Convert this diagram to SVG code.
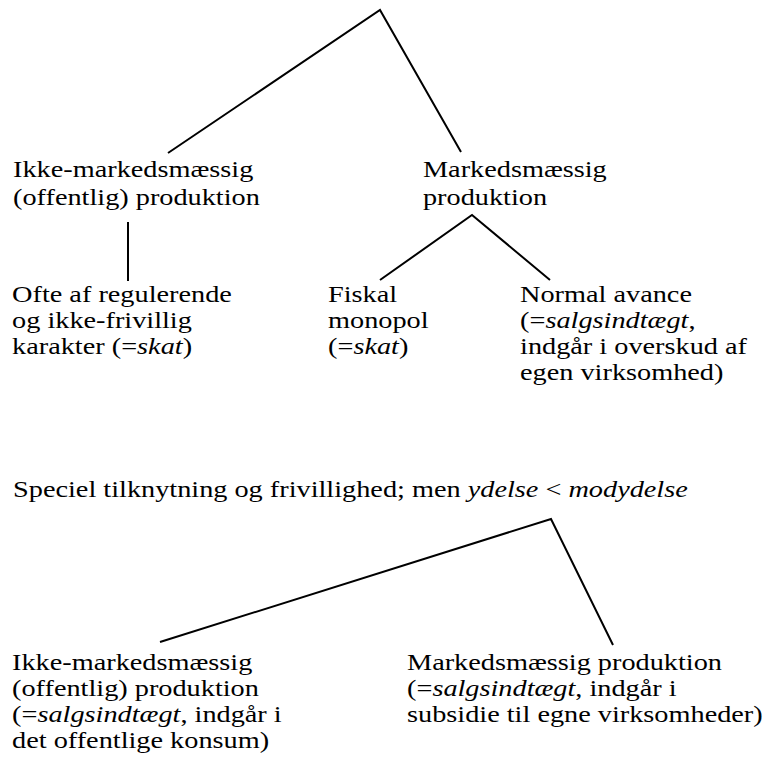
<svg xmlns="http://www.w3.org/2000/svg" width="783" height="773" viewBox="0 0 783 773">
<style>
text{font-family:"Liberation Serif","Times New Roman",serif;font-size:23px;fill:#000}
.i{font-style:italic}
.c{fill:none;stroke:#000;stroke-width:2;stroke-linejoin:miter}
</style>
<rect width="783" height="773" fill="#fff"/>
<g id="connectors">
<polyline class="c" points="168,153 380,10 461,152"/>
<line class="c" x1="128" y1="222" x2="128" y2="281"/>
<polyline class="c" points="380,280 472,215 550,280"/>
<polyline class="c" points="160,642 551,519 613,645"/>
</g>
<g id="n-ikke-top" transform="scale(1.23 1)">
<text x="10.6" y="177">Ikke-markedsmæssig</text>
<text x="10.6" y="205">(offentlig) produktion</text>
</g>
<g id="n-marked-top" transform="scale(1.23 1)">
<text x="343.9" y="177">Markedsmæssig</text>
<text x="343.9" y="205">produktion</text>
</g>
<g id="n-ofte" transform="scale(1.23 1)">
<text x="9.8" y="302">Ofte af regulerende</text>
<text x="9.8" y="328">og ikke-frivillig</text>
<text x="9.8" y="354">karakter (=<tspan class="i">skat</tspan>)</text>
</g>
<g id="n-fiskal" transform="scale(1.23 1)">
<text x="266.7" y="302">Fiskal</text>
<text x="266.7" y="328">monopol</text>
<text x="266.7" y="354">(=<tspan class="i">skat</tspan>)</text>
</g>
<g id="n-normal" transform="scale(1.23 1)">
<text x="422.8" y="302">Normal avance</text>
<text x="422.8" y="328">(=<tspan class="i">salgsindtægt</tspan>,</text>
<text x="422.8" y="354">indgår i overskud af</text>
<text x="422.8" y="380">egen virksomhed)</text>
</g>
<g id="n-speciel" transform="scale(1.23 1)">
<text x="10.6" y="497">Speciel tilknytning og frivillighed; men <tspan class="i">ydelse</tspan> &lt; <tspan class="i">modydelse</tspan></text>
</g>
<g id="n-ikke-bottom" transform="scale(1.23 1)">
<text x="9.8" y="670">Ikke-markedsmæssig</text>
<text x="9.8" y="696">(offentlig) produktion</text>
<text x="9.8" y="722">(=<tspan class="i">salgsindtægt</tspan>, indgår i</text>
<text x="9.8" y="748">det offentlige konsum)</text>
</g>
<g id="n-marked-bottom" transform="scale(1.23 1)">
<text x="330.9" y="670">Markedsmæssig produktion</text>
<text x="330.9" y="696">(=<tspan class="i">salgsindtægt</tspan>, indgår i</text>
<text x="330.9" y="722">subsidie til egne virksomheder)</text>
</g>
</svg>
